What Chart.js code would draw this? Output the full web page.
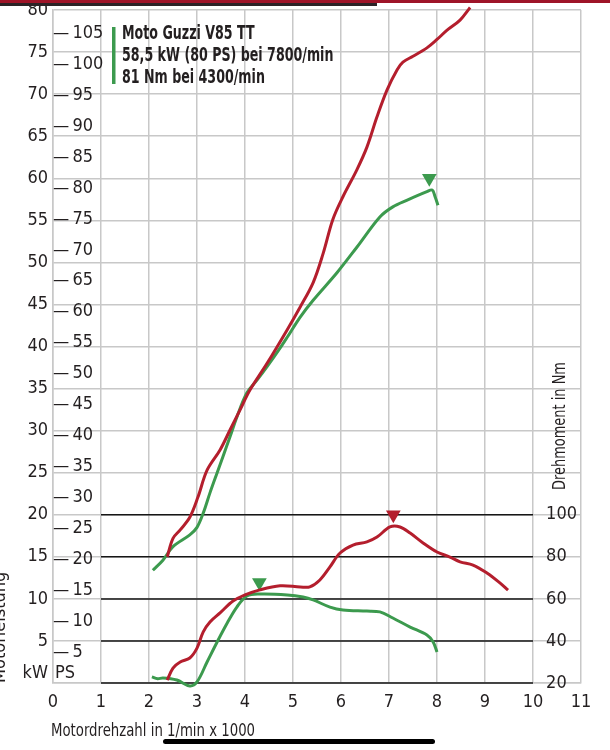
<!DOCTYPE html>
<html>
<head>
<meta charset="utf-8">
<script src="https://cdn.jsdelivr.net/npm/chart.js@4.4.1/dist/chart.umd.min.js"></script>
<style>
  html, body { margin: 0; padding: 0; background: #fff; }
  #wrap { position: relative; width: 610px; height: 750px; overflow: hidden; }
  #topRed { position: absolute; left: 0; top: 0; width: 610px; height: 3px; background: #9e1428; }
  #topDark { position: absolute; left: 0; top: 3px; width: 377px; height: 3px; background: #2b2326; }
  #homeBar { position: absolute; left: 163px; top: 739px; width: 272px; height: 5px; border-radius: 3px; background: #000; }
</style>
</head>
<body>
<div id="wrap">
  <canvas id="chart" width="610" height="750"></canvas>
  <div id="topRed"></div>
  <div id="topDark"></div>
  <div id="homeBar"></div>
</div>
<script>
// axis ticks
const rpmTicks = [0, 1, 2, 3, 4, 5, 6, 7, 8, 9, 10, 11];
const kwTicks = [0, 5, 10, 15, 20, 25, 30, 35, 40, 45, 50, 55, 60, 65, 70, 75, 80];
const psTicks = [5, 10, 15, 20, 25, 30, 35, 40, 45, 50, 55, 60, 65, 70, 75, 80, 85, 90, 95, 100, 105];
const nmTicks = [20, 40, 60, 80, 100];

// comparison bike (red) - power in kW
const redPowerRpm = [2.38, 2.5, 2.65, 2.85, 3.02, 3.21, 3.48, 3.69, 3.9, 4.1, 4.46, 4.88, 5.15, 5.42, 5.63, 5.83, 6.04, 6.33, 6.54, 6.75, 6.96, 7.17, 7.29, 7.5, 7.79, 8.0, 8.21, 8.48, 8.69];
const redPowerKw  = [15.0, 17.2, 18.2, 19.7, 22.1, 25.3, 27.7, 30.1, 32.5, 34.8, 38.0, 42.0, 44.7, 47.6, 51.1, 55.1, 57.8, 61.0, 63.7, 67.3, 70.5, 72.9, 73.8, 74.5, 75.5, 76.5, 77.6, 78.8, 80.3];

// Moto Guzzi V85 TT (green) - power in kW
const greenPowerRpm = [2.08, 2.29, 2.5, 2.85, 3.0, 3.13, 3.27, 3.42, 3.54, 3.69, 3.83, 4.04, 4.25, 4.46, 4.73, 4.88, 5.15, 5.42, 5.92, 6.33, 6.81, 7.08, 7.38, 7.79, 7.9, 7.96, 8.02];
const greenPowerKw  = [13.4, 14.6, 16.2, 17.6, 18.5, 20.2, 22.6, 25.0, 26.9, 29.3, 31.6, 34.5, 36.0, 37.6, 39.8, 41.1, 43.5, 45.5, 48.8, 51.8, 55.4, 56.6, 57.4, 58.4, 58.6, 57.8, 56.8];

// torque in Nm
const redTorqueRpm = [2.38, 2.5, 2.65, 2.85, 3.0, 3.13, 3.27, 3.48, 3.75, 4.0, 4.31, 4.73, 5.15, 5.35, 5.56, 5.77, 5.98, 6.25, 6.54, 6.75, 7.02, 7.23, 7.44, 7.71, 8.0, 8.27, 8.48, 8.75, 9.04, 9.31, 9.48];
const redTorqueNm  = [21.4, 27.1, 30.0, 31.9, 36.6, 44.3, 49.0, 53.3, 59.0, 61.9, 64.3, 66.2, 65.7, 65.7, 69.0, 75.2, 81.8, 85.6, 87.1, 89.4, 94.2, 94.2, 91.3, 86.6, 82.3, 79.9, 77.6, 76.1, 72.3, 67.6, 64.2];
const greenTorqueRpm = [2.06, 2.18, 2.29, 2.58, 2.85, 3.0, 3.21, 3.42, 3.63, 3.83, 4.04, 4.31, 4.88, 5.21, 5.42, 5.77, 6.04, 6.54, 6.81, 7.08, 7.44, 7.79, 7.92, 8.0];
const greenTorqueNm  = [22.9, 22.0, 22.4, 21.4, 18.6, 20.5, 30.0, 39.5, 48.5, 56.1, 61.4, 62.3, 61.9, 60.9, 59.5, 56.1, 54.7, 54.2, 53.8, 50.9, 46.6, 42.8, 39.5, 34.7];

// peak markers
const powerPeakRpm = [7.84];
const powerPeakKw = [60.0];
const torquePeakRpm = [7.09, 4.30];
const torquePeakNm = [100.0, 67.8];

const legendLines = ['Moto Guzzi V85 TT', '58,5 kW (80 PS) bei 7800/min', '81 Nm bei 4300/min'];

const RED = '#b41e2d';
const GREEN = '#3c9a4e';
const GRID = '#c8c8c8';
const INK = '#231f20';
const FONT = "'Liberation Sans Narrow', 'DejaVu Sans Condensed', sans-serif";
const PS_PER_KW = 1.35962;

Chart.defaults.font.family = FONT;
Chart.defaults.color = INK;

const pts = (xs, ys) => xs.map((v, i) => ({ x: v, y: ys[i] }));
const setTicks = list => scale => { scale.ticks = list.map(v => ({ value: v })); };
// fixed axis widths, and no extra label padding pushed into the layout
const fixWidth = w => s => { s.width = w; s.paddingTop = 0; s.paddingBottom = 0; };

const lineSet = (data, color, axis) => ({
  data: data,
  yAxisID: axis,
  borderColor: color,
  borderWidth: 3,
  pointRadius: 0,
  tension: 0.35,
  fill: false,
  clip: false
});

// condensed text helper (the print font is much narrower than what is installed)
function narrowText(ctx, text, x, y, squeeze) {
  ctx.save();
  ctx.translate(x, y);
  ctx.scale(squeeze, 1);
  ctx.fillText(text, 0, 0);
  ctx.restore();
}

const extras = {
  id: 'extras',
  beforeDatasetsDraw(chart) {
    const { ctx, scales: { x, y2 } } = chart;
    ctx.save();
    ctx.strokeStyle = '#161616';
    ctx.lineWidth = 1.5;
    nmTicks.forEach(v => {
      const py = y2.getPixelForValue(v);
      ctx.beginPath();
      ctx.moveTo(x.getPixelForValue(1), py);
      ctx.lineTo(x.getPixelForValue(10), py);
      ctx.stroke();
    });
    ctx.restore();
  },
  afterDraw(chart) {
    const { ctx } = chart;
    ctx.save();
    // legend block
    ctx.fillStyle = GREEN;
    ctx.fillRect(112, 27, 3.5, 57);
    ctx.fillStyle = INK;
    ctx.font = 'bold 19px ' + FONT;
    ctx.textBaseline = 'middle';
    ctx.textAlign = 'left';
    legendLines.forEach((t, i) => narrowText(ctx, t, 122, 34 + i * 22, 0.74));
    // unit labels
    ctx.font = '18px ' + FONT;
    ctx.textAlign = 'right';
    ctx.fillText('kW', 48, 673);
    ctx.textAlign = 'left';
    ctx.fillText('PS', 55, 673);
    // x axis title
    narrowText(ctx, 'Motordrehzahl in 1/min x 1000', 51, 731, 0.82);
    // right axis title
    ctx.translate(560, 490);
    ctx.rotate(-Math.PI / 2);
    narrowText(ctx, 'Drehmoment in Nm', 0, 0, 0.8);
    ctx.restore();
  }
};

new Chart(document.getElementById('chart'), {
  type: 'line',
  data: {
    datasets: [
      lineSet(pts(redPowerRpm, redPowerKw), RED, 'y'),
      lineSet(pts(greenPowerRpm, greenPowerKw), GREEN, 'y'),
      lineSet(pts(redTorqueRpm, redTorqueNm), RED, 'y2'),
      lineSet(pts(greenTorqueRpm, greenTorqueNm), GREEN, 'y2'),
      {
        type: 'scatter',
        data: pts(powerPeakRpm, powerPeakKw),
        yAxisID: 'y',
        pointStyle: 'triangle',
        rotation: 180,
        pointRadius: 8.5,
        backgroundColor: GREEN,
        borderWidth: 0,
        clip: false
      },
      {
        type: 'scatter',
        data: pts(torquePeakRpm, torquePeakNm),
        yAxisID: 'y2',
        pointStyle: 'triangle',
        rotation: 180,
        pointRadius: 8.5,
        backgroundColor: [RED, GREEN],
        borderWidth: 0,
        clip: false
      }
    ]
  },
  options: {
    responsive: false,
    animation: false,
    devicePixelRatio: 1,
    layout: { padding: { top: 10, right: 29, bottom: 0, left: 0 } },
    plugins: { legend: { display: false }, tooltip: { enabled: false } },
    scales: {
      x: {
        type: 'linear',
        min: 0,
        max: 11,
        afterBuildTicks: setTicks(rpmTicks),
        afterFit: s => { s.height = 67; s.paddingLeft = 0; s.paddingRight = 0; },
        grid: { color: GRID, lineWidth: 1.5, drawTicks: false },
        border: { color: GRID, width: 1.5 },
        ticks: { padding: 9, font: { size: 18 }, color: INK }
      },
      y: {
        position: 'left',
        weight: 1,
        min: 0,
        max: 80,
        afterBuildTicks: setTicks(kwTicks),
        afterFit: fixWidth(53),
        grid: { color: GRID, lineWidth: 1.5, drawTicks: false },
        border: { color: GRID, width: 1.5 },
        ticks: { padding: 5, font: { size: 18 }, color: INK, callback: v => (v === 0 ? '' : v) },
        title: {
          display: true,
          text: 'Motorleistung',
          align: 'start',
          font: { size: 18 },
          color: INK,
          padding: { top: -10, bottom: 0 }
        }
      },
      yPS: {
        position: 'left',
        weight: 0,
        min: 0,
        max: 80 * PS_PER_KW,
        afterBuildTicks: setTicks(psTicks),
        afterFit: fixWidth(0),
        grid: { display: false },
        border: { display: false },
        ticks: { mirror: true, crossAlign: 'near', padding: 0, font: { size: 18 }, color: INK, callback: v => '\u2014\u2009' + v }
      },
      y2: {
        position: 'right',
        min: 20,
        max: 340,
        afterBuildTicks: setTicks(nmTicks),
        afterFit: fixWidth(0),
        grid: { display: false },
        border: { display: false },
        ticks: { mirror: true, crossAlign: 'far', padding: -4, font: { size: 18 }, color: INK }
      }
    }
  },
  plugins: [extras]
});
</script>
</body>
</html>
